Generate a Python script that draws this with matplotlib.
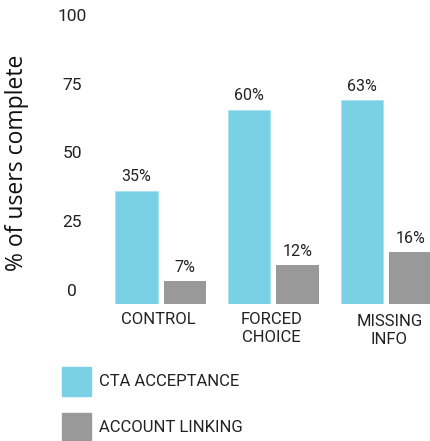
import matplotlib
matplotlib.use("Agg")
import matplotlib.pyplot as plt
from matplotlib.patches import Rectangle

categories = ["CONTROL", "FORCED\nCHOICE", "MISSING\nINFO"]
cta_acceptance = [35, 60, 63]
account_linking = [7, 12, 16]
series_names = ["CTA ACCEPTANCE", "ACCOUNT LINKING"]
y_ticks = [0, 25, 50, 75, 100]

CYAN = "#7AD0E5"
GRAY = "#999999"
TXT = "#222222"
FONT = "Roboto"

W, H = 430, 441
fig = plt.figure(figsize=(W / 100, H / 100), dpi=100)

def rect(left, top, right, bottom):
    return [left / W, 1 - bottom / H, (right - left) / W, (bottom - top) / H]

# bar axes (0 at y=304 px, 3.24 px per %)
axb = fig.add_axes(rect(0, 0, 430, 304))
px_per_unit = 112.6
g0 = 160.8
axb.set_xlim(-g0 / px_per_unit, (430 - g0) / px_per_unit)
axb.set_ylim(0, 304 / 3.24)
axb.axis("off")

off = 0.215
bw = 0.377
xs = list(range(len(categories)))
b1 = axb.bar([x - off for x in xs], cta_acceptance, width=bw, color=CYAN,
             edgecolor="#a8e2f0", linewidth=0.6)
b2 = axb.bar([x + off for x in xs], account_linking, width=bw, color=GRAY,
             linewidth=0)
for bars, vals in ((b1, cta_acceptance), (b2, account_linking)):
    for b, v in zip(bars, vals):
        axb.annotate(f"{v}%", (b.get_x() + b.get_width() / 2, b.get_height()),
                     xytext=(0, 4.5), textcoords="offset points",
                     ha="center", va="bottom", fontsize=11.5, color=TXT,
                     family=FONT)
for x, c in zip(xs, categories):
    dy = -7 if x == 2 else -5.5
    dx = 2.5 if x == 2 else -1.5
    axb.annotate(c, (x, 0), xytext=(dx, dy), textcoords="offset points",
                 ha="center", va="top", fontsize=12, color=TXT, family=FONT,
                 linespacing=1.3, annotation_clip=False)

# tick axes (0 at y=290 px, 100 at y=15 px)
axt = fig.add_axes(rect(72, 15, 73, 290))
axt.set_ylim(0, 100)
axt.set_yticks(y_ticks)
axt.set_yticklabels([str(t) for t in y_ticks], fontsize=12.5, color=TXT,
                    family=FONT, ha="center")
axt.tick_params(axis="y", length=0, pad=0)
axt.set_xticks([])
for s in axt.spines.values():
    s.set_visible(False)
axt.patch.set_alpha(0)

fig.text(17 / W, 1 - 163 / H, "% of users complete", rotation=90,
         ha="center", va="center", fontsize=16.5, color="#111111",
         family="Open Sans")

# legend
for i, (name, col) in enumerate(zip(series_names, [CYAN, GRAY])):
    top = 367 + i * 46
    fig.patches.append(Rectangle((62 / W, 1 - (top + 29) / H), 29 / W, 29 / H,
                                 transform=fig.transFigure, color=col))
    fig.text(99 / W, 1 - (top + 15) / H, name, ha="left", va="center",
             fontsize=12, color=TXT, family=FONT)

fig.savefig("out.png", dpi=100)
